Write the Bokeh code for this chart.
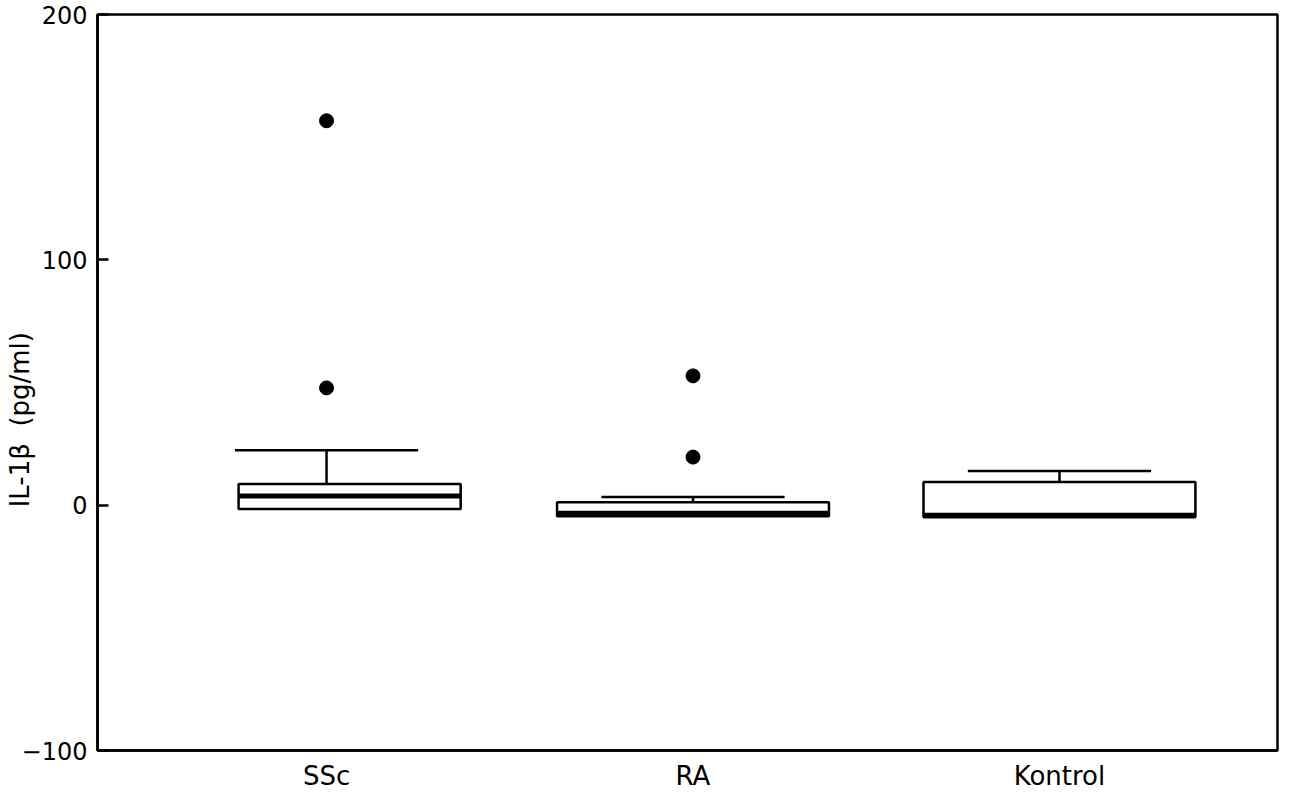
from bokeh.plotting import figure
from bokeh.models import Range1d, FixedTicker, ColumnDataSource
from bokeh.embed import file_html
from bokeh.resources import INLINE

# ---- data ----
groups = ["SSc", "RA", "Kontrol"]
q1 = [-1.6, -4.5, -4.9]
median = [3.7, -3.3, -4.1]
q3 = [8.6, 1.2, 9.4]
upper_whisker = [22.4, 3.3, 13.9]
lower_whisker = [-1.6, -4.5, -4.9]
outlier_group = [0, 0, 1, 1]
outlier_value = [156.7, 47.8, 52.7, 19.6]
y_ticks = [-100, 0, 100, 200]

# ---- layout / style constants ----
box_left = [-0.24, -0.371, -0.371]
box_right = [0.366, 0.371, 0.371]
cap_half = 0.25
FONT = "DejaVu Sans"
NB = "\u00a0"

p = figure(width=1294, height=802, output_backend="svg", toolbar_location=None,
           x_range=Range1d(-0.625, 2.595), y_range=Range1d(-100, 200))
p.min_border_left = 97
p.min_border_right = 17
p.min_border_top = 14
p.min_border_bottom = 52
p.background_fill_color = "white"
p.border_fill_color = "white"
p.grid.visible = False
p.outline_line_color = "black"
p.outline_line_width = 2.5

xs = list(range(len(groups)))
src = ColumnDataSource(dict(
    x=xs,
    left=[x + o for x, o in zip(xs, box_left)],
    right=[x + o for x, o in zip(xs, box_right)],
    q1=q1, q3=q3, med=median, uw=upper_whisker, lw=lower_whisker,
    cl=[x - cap_half for x in xs], cr=[x + cap_half for x in xs],
))

# whiskers
p.segment(x0="x", y0="q3", x1="x", y1="uw", source=src, line_color="black", line_width=2.5)
p.segment(x0="x", y0="q1", x1="x", y1="lw", source=src, line_color="black", line_width=2.5)
p.segment(x0="cl", y0="uw", x1="cr", y1="uw", source=src, line_color="black", line_width=2.5)
# boxes
p.quad(left="left", right="right", bottom="q1", top="q3", source=src,
       fill_color="white", line_color="black", line_width=2.5)
# medians
p.segment(x0="left", y0="med", x1="right", y1="med", source=src, line_color="black", line_width=5)
# outliers
p.scatter(x=outlier_group, y=outlier_value, size=14, marker="circle",
          fill_color="black", line_color="black")

# axes
xa = p.xaxis[0]
xa.ticker = FixedTicker(ticks=xs)
xa.major_label_overrides = {i: g for i, g in enumerate(groups)}
xa.major_tick_in = 0
xa.major_tick_out = 0
xa.minor_tick_line_color = None
xa.axis_line_width = 2.5
xa.major_label_text_font = FONT
xa.major_label_text_font_size = "26px"
xa.major_label_text_color = "black"
xa.major_label_standoff = 10

ya = p.yaxis[0]
ya.ticker = FixedTicker(ticks=y_ticks)
ya.major_label_overrides = {-100: "\u2212100"}
ya.major_tick_in = 11
ya.major_tick_out = 0
ya.major_tick_line_width = 2.5
ya.minor_tick_line_color = None
ya.axis_line_width = 2.5
ya.major_label_text_font = FONT
ya.major_label_text_font_size = "24px"
ya.major_label_text_color = "black"
ya.major_label_standoff = 10
ya.axis_label = "IL-1\u03b2" + NB * 2 + "(pg/ml)" + NB * 9
ya.axis_label_text_font = FONT
ya.axis_label_text_font_size = "26px"
ya.axis_label_text_font_style = "normal"
ya.axis_label_text_color = "black"
ya.axis_label_standoff = -16

open("out.html", "w").write(file_html(p, INLINE))
